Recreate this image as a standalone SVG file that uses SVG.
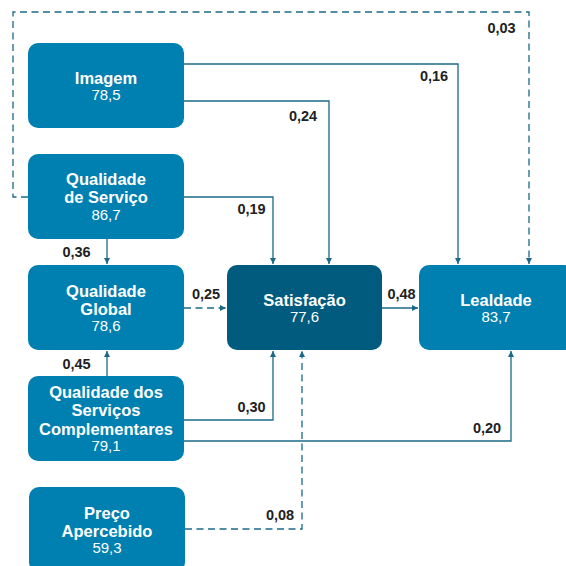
<svg xmlns="http://www.w3.org/2000/svg" width="566" height="566" viewBox="0 0 566 566">
<style>
.n{fill:#0080b1}
.d{fill:#005b7f}
.t{font-family:"Liberation Sans",Arial,sans-serif;font-size:16.5px;font-weight:bold;fill:#fff;text-anchor:middle}
.v{font-family:"Liberation Sans",Arial,sans-serif;font-size:15px;fill:#fff;text-anchor:middle}
.l{font-family:"Liberation Sans",Arial,sans-serif;font-size:14.5px;font-weight:bold;fill:#222;text-anchor:middle}
.c{fill:none;stroke:#1b6889;stroke-width:1.3}
.dash{stroke-dasharray:7 4.5}
</style>
<defs>
<marker id="a" viewBox="0 0 10 10" refX="10" refY="5" markerWidth="6" markerHeight="6" markerUnits="userSpaceOnUse" orient="auto">
<path d="M0,0 L10,5 L0,10 Z" fill="#1b6889"/>
</marker>
</defs>
<g id="connectors">
<polyline class="c" points="184,64 458,64 458,264" marker-end="url(#a)"/>
<polyline class="c" points="184,101 329,101 329,264" marker-end="url(#a)"/>
<polyline class="c dash" points="28,197 13,197 13,12 529,12 529,264" marker-end="url(#a)"/>
<polyline class="c" points="184,197 273,197 273,264" marker-end="url(#a)"/>
<polyline class="c" points="107,239 107,264" marker-end="url(#a)"/>
<polyline class="c dash" points="184,308 226,308" marker-end="url(#a)"/>
<polyline class="c" points="382,308 418,308" marker-end="url(#a)"/>
<polyline class="c" points="107,376 107,351" marker-end="url(#a)"/>
<polyline class="c" points="184,420 273,420 273,351" marker-end="url(#a)"/>
<polyline class="c" points="184,441 511,441 511,351" marker-end="url(#a)"/>
<polyline class="c dash" points="185,529 302,529 302,351" marker-end="url(#a)"/>
<text class="l" x="501.5" y="33">0,03</text>
<text class="l" x="434" y="81">0,16</text>
<text class="l" x="303" y="121">0,24</text>
<text class="l" x="251.5" y="214">0,19</text>
<text class="l" x="76.5" y="257">0,36</text>
<text class="l" x="206" y="299">0,25</text>
<text class="l" x="401.5" y="299">0,48</text>
<text class="l" x="76.5" y="369">0,45</text>
<text class="l" x="251.5" y="412">0,30</text>
<text class="l" x="487" y="433">0,20</text>
<text class="l" x="280" y="520">0,08</text>
</g>
<g id="imagem">
<rect class="n" x="28" y="43" width="156" height="85" rx="10"/>
<text class="t" x="106" y="84">Imagem</text>
<text class="v" x="106" y="100">78,5</text>
</g>
<g id="qualidade-servico">
<rect class="n" x="28" y="154" width="156" height="85" rx="10"/>
<text class="t" x="106" y="185">Qualidade</text>
<text class="t" x="106" y="203">de Serviço</text>
<text class="v" x="106" y="220">86,7</text>
</g>
<g id="qualidade-global">
<rect class="n" x="28" y="265" width="156" height="85" rx="10"/>
<text class="t" x="106" y="297">Qualidade</text>
<text class="t" x="106" y="315">Global</text>
<text class="v" x="106" y="331">78,6</text>
</g>
<g id="qualidade-complementares">
<rect class="n" x="28" y="376" width="156" height="85" rx="10"/>
<text class="t" x="106" y="398">Qualidade dos</text>
<text class="t" x="106" y="416">Serviços</text>
<text class="t" x="106" y="435">Complementares</text>
<text class="v" x="106" y="451">79,1</text>
</g>
<g id="preco">
<rect class="n" x="29" y="487" width="156" height="85" rx="10"/>
<text class="t" x="107" y="519">Preço</text>
<text class="t" x="107" y="537">Apercebido</text>
<text class="v" x="107" y="553">59,3</text>
</g>
<g id="satisfacao">
<rect class="d" x="227" y="265" width="155" height="85" rx="10"/>
<text class="t" x="304.5" y="306">Satisfação</text>
<text class="v" x="304.5" y="322">77,6</text>
</g>
<g id="lealdade">
<rect class="n" x="419" y="265" width="155" height="85" rx="10"/>
<text class="t" x="496" y="306">Lealdade</text>
<text class="v" x="496" y="322">83,7</text>
</g>
</svg>
